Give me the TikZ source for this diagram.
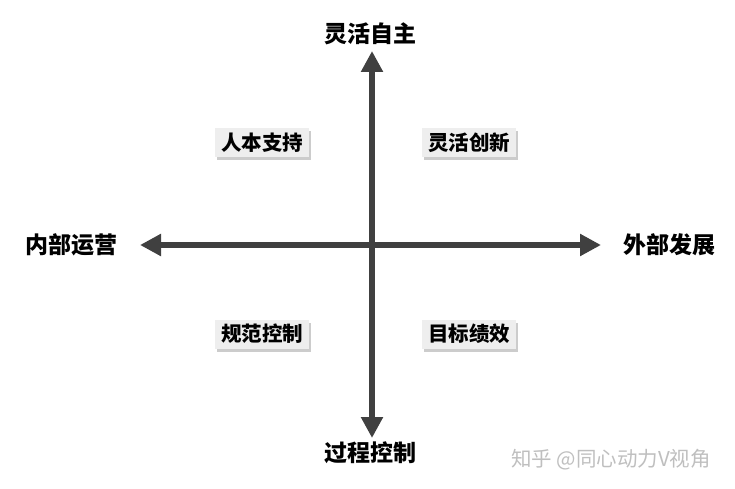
\documentclass[tikz,border=0pt]{standalone}
\usepackage{fontspec}
\newfontfamily\cjk{Noto Sans CJK SC}
\usetikzlibrary{arrows.meta,shadows}
\definecolor{axisgray}{HTML}{404040}
\definecolor{boxgray}{HTML}{EEEEEE}

\begin{document}
\begin{tikzpicture}[x=1pt, y=-1pt,
  axis/.style={draw=axisgray, line width=6pt, -{Triangle[width=21pt,length=21pt]}},
  pole/.style={font=\cjk\bfseries\fontsize{23}{25}\selectfont, inner sep=0pt},
  quad/.style={font=\cjk\bfseries\fontsize{20.5}{22}\selectfont, fill=boxgray, inner xsep=6pt,
    minimum height=29pt, drop shadow={shadow xshift=2pt, shadow yshift=-3pt, opacity=0.4}},
  watermark/.style={font=\cjk\fontsize{20.5}{22}\selectfont, text=black!25, inner sep=0pt}]
  \useasboundingbox (0,0) rectangle (735,489);
  \coordinate (C) at (372,245);
  \coordinate (N) at (372,51);
  \coordinate (S) at (372,438);
  \coordinate (W) at (140,245);
  \coordinate (E) at (601,245);
  \node[pole] (top) at (370,34) {灵活自主};
  \node[pole] (bottom) at (370,453) {过程控制};
  \node[pole] (left) at (71,245) {内部运营};
  \node[pole] (right) at (669,245) {外部发展};
  \node[quad] (q1) at (262,143) {人本支持};
  \node[quad] (q2) at (469,143) {灵活创新};
  \node[quad] (q3) at (262,334) {规范控制};
  \node[quad] (q4) at (469,334) {目标绩效};
  \node[watermark] (wm) at (611,460) {知乎 @同心动力V视角};
  \draw[axis] (C) -- (E);
  \draw[axis] (C) -- (W);
  \draw[axis] (C) -- (N);
  \draw[axis] (C) -- (S);
\end{tikzpicture}
\end{document}
